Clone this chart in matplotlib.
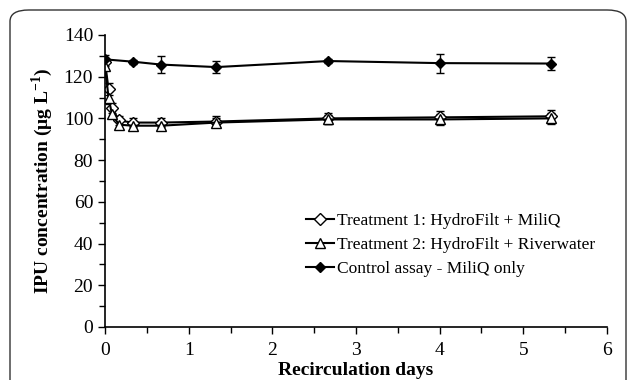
import numpy as np
import matplotlib
matplotlib.use("Agg")
from matplotlib import pyplot as plt
from matplotlib.patches import FancyBboxPatch
from matplotlib.lines import Line2D
from matplotlib.ticker import MultipleLocator

# sampling times (days)
days = [0, 0.042, 0.083, 0.167, 0.33, 0.67, 1.33, 2.67, 4.0, 5.33]
t1 = [127, 114, 105, 99, 98, 98, 98.5, 100, 100.5, 101]
t1_err = [2, 3, 2.5, 2, 2, 2, 2.5, 2.5, 3, 3]
t2 = [125, 110, 102, 97, 96.5, 96.5, 98, 99.5, 99.5, 100]
t2_err = [2, 3, 2, 2, 2, 2, 2, 2, 2.5, 2.5]

days_ctrl = [0, 0.33, 0.67, 1.33, 2.67, 4.0, 5.33]
ctrl = [128.3, 127.2, 125.8, 124.6, 127.5, 126.5, 126.3]
ctrl_err = [2, 1, 4, 2.8, 1, 4.6, 3]

labels = ['Treatment 1: HydroFilt + MiliQ',
          'Treatment 2: HydroFilt + Riverwater',
          'Control assay - MiliQ only']

plt.rcParams['font.family'] = ['Liberation Serif', 'DejaVu Serif']
plt.rcParams['mathtext.fontset'] = 'custom'
plt.rcParams['mathtext.rm'] = 'Liberation Serif'
plt.rcParams['mathtext.bf'] = 'Liberation Serif:bold'

fig = plt.figure(figsize=(6.27, 3.8), dpi=100)
ax = fig.add_axes([0.1675, 0.1395, 0.8005, 0.7685])

# rounded frame around the figure
frame = FancyBboxPatch((10 / 627, -0.05), 616 / 627, 1 - 10 / 380 + 0.05,
                       boxstyle="round,pad=0,rounding_size=0.03",
                       transform=fig.transFigure, fill=False,
                       edgecolor='#333333', linewidth=1.0, zorder=-1)
fig.patches.append(frame)

styles = [
    dict(marker='D', ms=6, mfc='white'),
    dict(marker='^', ms=7, mfc='white'),
    dict(marker='D', ms=5, mfc='black'),
]

ax.errorbar(days, t1, yerr=t1_err, color='black', lw=1.5, mec='black',
            mew=1.0, capsize=3, elinewidth=1, **styles[0])
ax.errorbar(days, t2, yerr=t2_err, color='black', lw=1.5, mec='black',
            mew=1.0, capsize=3, elinewidth=1, **styles[1])
ax.errorbar(days_ctrl, ctrl, yerr=ctrl_err, color='black', lw=1.5,
            mec='black', capsize=3, elinewidth=1, **styles[2])

ax.set_xlim(0, 6)
ax.set_ylim(0, 140)
ax.xaxis.set_major_locator(MultipleLocator(1))
ax.xaxis.set_minor_locator(MultipleLocator(0.5))
ax.yaxis.set_major_locator(MultipleLocator(20))
ax.yaxis.set_minor_locator(MultipleLocator(10))
ax.tick_params(which='both', direction='out', labelsize=14, width=1)
ax.tick_params(which='major', length=5)
ax.tick_params(which='minor', length=4)
ax.tick_params(axis='x', pad=6)
ax.spines['top'].set_visible(False)
ax.spines['right'].set_visible(False)
ax.spines['left'].set_linewidth(1.2)
ax.spines['bottom'].set_linewidth(1.2)

ax.set_xlabel('Recirculation days', fontsize=14, fontweight='bold', labelpad=2)
ax.set_ylabel('IPU concentration (\u03bcg L$^{\\mathbf{-1}}$)', fontsize=14,
              fontweight='bold', labelpad=6)

handles = [Line2D([], [], color='black', lw=1.5, mec='black', mew=1.0, **s)
           for s in styles]
ax.legend(handles, labels, loc='center left',
          bbox_to_anchor=(0.40, 0.281), frameon=False, fontsize=12.5,
          handlelength=1.6, handletextpad=0.2, labelspacing=0.45,
          borderaxespad=0, borderpad=0)

fig.savefig('out.png', dpi=100)
